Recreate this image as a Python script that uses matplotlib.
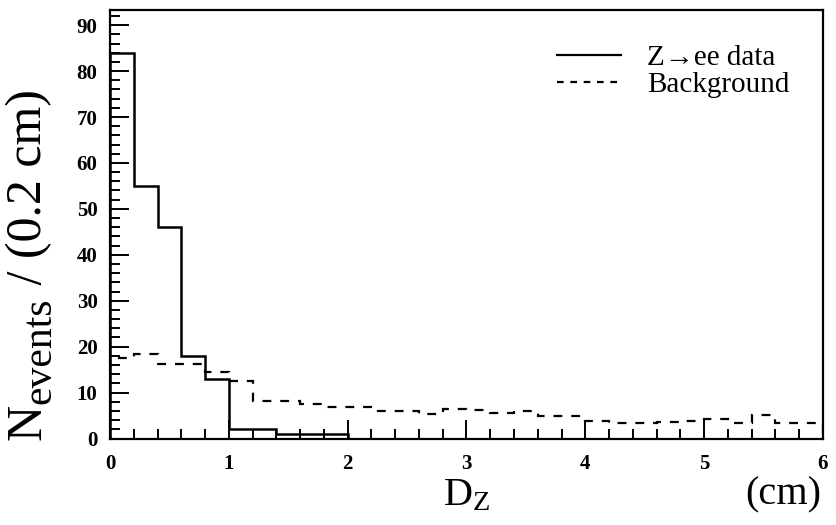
import numpy as np
import matplotlib
matplotlib.use("Agg")
import matplotlib.pyplot as plt
from matplotlib.lines import Line2D
from matplotlib.ticker import MultipleLocator

# bins de 0.2 cm entre 0 et 6 cm
bin_edges = np.linspace(0.0, 6.0, 31)

# Z->ee data (tout est nul au dela de 2 cm)
zee_data = [84, 55, 46, 18, 13, 2, 2, 1, 1, 1,
            0, 0, 0, 0, 0, 0, 0, 0, 0, 0,
            0, 0, 0, 0, 0, 0, 0, 0, 0, 0]

# bruit de fond
background = [17.6, 18.3, 16.3, 16.3, 14.4, 12.5, 8.2, 8.2, 7.6, 6.9,
              6.9, 6.0, 6.0, 5.3, 6.4, 6.3, 5.6, 6.0, 4.9, 4.9,
              3.9, 3.3, 3.4, 3.6, 3.9, 4.2, 3.3, 5.1, 3.4, 3.4]

legend_labels = ["Z\u2192ee data", "Background"]

plt.rcParams['font.family'] = ['Liberation Serif', 'DejaVu Serif']
plt.rcParams['mathtext.fontset'] = 'custom'
plt.rcParams['mathtext.rm'] = 'Liberation Serif'
plt.rcParams['mathtext.it'] = 'Liberation Serif:italic'

W, H = 837, 525
fig = plt.figure(figsize=(W / 100, H / 100), dpi=100)
ax = fig.add_axes([110 / W, 1 - 438.5 / H, 713 / W, 428.5 / H])

ax.stairs(zee_data, bin_edges, color='black', linewidth=1.8)
ax.stairs(background, bin_edges, color='black', linewidth=1.6,
          linestyle=(0, (4, 4)))

ax.set_xlim(0, 6)
ax.set_ylim(0, 93.3)

# axes style ROOT
for sp in ax.spines.values():
    sp.set_linewidth(1.6)
ax.xaxis.set_major_locator(MultipleLocator(1))
ax.xaxis.set_minor_locator(MultipleLocator(0.2))
ax.yaxis.set_major_locator(MultipleLocator(10))
ax.yaxis.set_minor_locator(MultipleLocator(2))
ax.tick_params(which='both', direction='in', top=False, right=False, width=1.4)
ax.tick_params(which='major', length=14)
ax.tick_params(which='minor', length=7)
ax.tick_params(axis='x', which='major', pad=11)
ax.tick_params(axis='y', which='major', pad=9)
for lab in ax.get_xticklabels() + ax.get_yticklabels():
    lab.set_fontsize(15)
    lab.set_fontweight('bold')

# titre axe y en morceaux (N, indice, reste), de bas en haut
renderer = fig.canvas.get_renderer()
pieces = [("N", 36, 0), ("events", 30, 9), (" / (0.2 cm)", 36, 0)]
ypos = 440
for txt, size, shift in pieces:
    t = fig.text((41 + shift) / W, 1 - ypos / H, txt, rotation=90,
                 rotation_mode='anchor', ha='left', va='baseline', fontsize=size)
    bb = t.get_window_extent(renderer)
    ypos -= bb.height

fig.text(467 / W, 1 - 496 / H, r'D$_{\mathrm{Z}}$',
         ha='center', va='center', fontsize=29)
fig.text(821 / W, 1 - 495 / H, '(cm)', ha='right', va='center', fontsize=29)

# legende
handles = [Line2D([], [], color='black', linewidth=1.6),
           Line2D([], [], color='black', linewidth=1.6, linestyle=(0, (3, 3)))]
ax.legend(handles, legend_labels, loc='upper left',
          bbox_to_anchor=((557 - 110) / 713, (438.5 - 45) / 428.5),
          frameon=False, fontsize=21, handlelength=2.2, handletextpad=0.9,
          labelspacing=0.0, borderaxespad=0, borderpad=0)

fig.savefig('out.png', dpi=100)
